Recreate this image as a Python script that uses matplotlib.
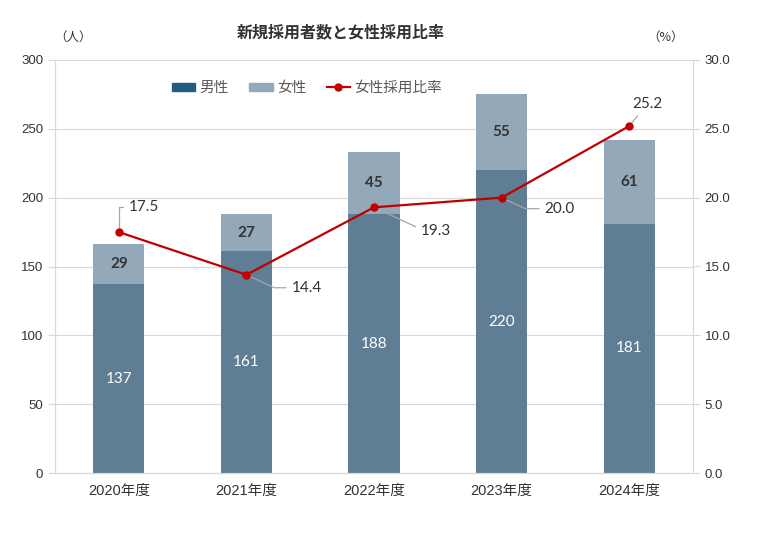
import matplotlib
matplotlib.use("Agg")
import matplotlib.pyplot as plt
from matplotlib.patches import Patch
from matplotlib.lines import Line2D

plt.rcParams['font.family'] = ['Liberation Sans', 'Noto Sans CJK JP']

years = ['2020年度', '2021年度', '2022年度', '2023年度', '2024年度']
male = [137, 161, 188, 220, 181]
female = [29, 27, 45, 55, 61]
ratio = [17.5, 14.4, 19.3, 20.0, 25.2]
# label offsets in pixels (dx, dy, ha)
label_off = [(10, 25, 'left'), (45, -13, 'left'), (47, -24, 'left'),
             (43, -11, 'left'), (18, 22, 'center')]

c_male = '#5f7d93'
c_female = '#93a9b9'
c_male_leg = '#1f5d84'
c_line = '#c00000'
grid_c = '#d9d9d9'
txt_c = '#333333'
num_font = ['Lato', 'DejaVu Sans']
jp_font = ['Noto Sans CJK JP', 'DejaVu Sans']

fig = plt.figure(figsize=(7.68, 5.4), dpi=100)
ax = fig.add_axes([55/768, 67/540, 638/768, 413/540])
ax2 = ax.twinx()

x = range(len(years))
ax.bar(x, male, width=0.4, color=c_male, zorder=2)
ax.bar(x, female, width=0.4, bottom=male, color=c_female, zorder=2)

for i in x:
    ax.text(i, male[i] / 2, str(male[i]), ha='center', va='center',
            color='white', fontsize=11, family=num_font)
    ax.text(i, male[i] + female[i] / 2, str(female[i]), ha='center', va='center',
            color=txt_c, fontsize=11, fontweight='bold', family=num_font)

ax.set_xlim(-0.5, len(years) - 0.5)
ax.set_ylim(0, 300)
ax.set_yticks(range(0, 301, 50))
ax.yaxis.grid(True, color=grid_c, lw=0.8, zorder=0)
ax.set_axisbelow(True)
ax.set_xticks(list(x))
ax.set_xticklabels(years)

ax2.plot(list(x), ratio, color=c_line, lw=1.6, marker='o', ms=5, zorder=5)
ax2.set_ylim(0, 30)
ax2.set_yticks([0, 5, 10, 15, 20, 25, 30])
ax2.set_yticklabels([f'{v:.1f}' for v in [0, 5, 10, 15, 20, 25, 30]])

for i, (dx, dy, ha) in enumerate(label_off):
    if i == 0:
        cs = 'angle,angleA=0,angleB=90,rad=0'
    elif i == 4:
        cs = 'arc3'
    else:
        cs = 'angle,angleA=0,angleB=-25,rad=0'
    ax2.annotate(f'{ratio[i]:.1f}', xy=(i, ratio[i]), xytext=(dx, dy),
                 textcoords='offset pixels', ha=ha, va='center',
                 fontsize=11, color=txt_c, family=num_font,
                 arrowprops=dict(arrowstyle='-', color='#a6a6a6', lw=0.9,
                                 connectionstyle=cs, shrinkA=2, shrinkB=3))

for a in (ax, ax2):
    for s in a.spines.values():
        s.set_color(grid_c)
    a.spines['top'].set_visible(False)
    a.tick_params(colors=grid_c, labelcolor=txt_c, labelsize=9.5, length=5)
ax.tick_params(axis='x', length=0, labelsize=10.5, pad=8)

fig.text(341/768, 1 - 32/540, '新規採用者数と女性採用比率', ha='center', va='center',
         fontsize=11.5, fontweight='bold', color=txt_c, family=jp_font)
fig.text(73/768, 1 - 37/540, '（人）', ha='center', va='center', fontsize=9,
         color=txt_c, family=jp_font)
fig.text(666/768, 1 - 37/540, '（%）', ha='center', va='center', fontsize=9,
         color=txt_c, family=jp_font)

handles = [Patch(color=c_male_leg), Patch(color=c_female),
           Line2D([], [], color=c_line, lw=1.6, marker='o', ms=5)]
ax.legend(handles, ['男性', '女性', '女性採用比率'], ncol=3, frameon=False,
          loc='center', bbox_to_anchor=(307/768, 1 - 88/540),
          bbox_transform=fig.transFigure, labelcolor='#595959',
          prop={'family': jp_font, 'size': 10.5},
          handlelength=1.6, handleheight=0.5, columnspacing=1.4, handletextpad=0.3)

fig.savefig('out.png', dpi=100)
